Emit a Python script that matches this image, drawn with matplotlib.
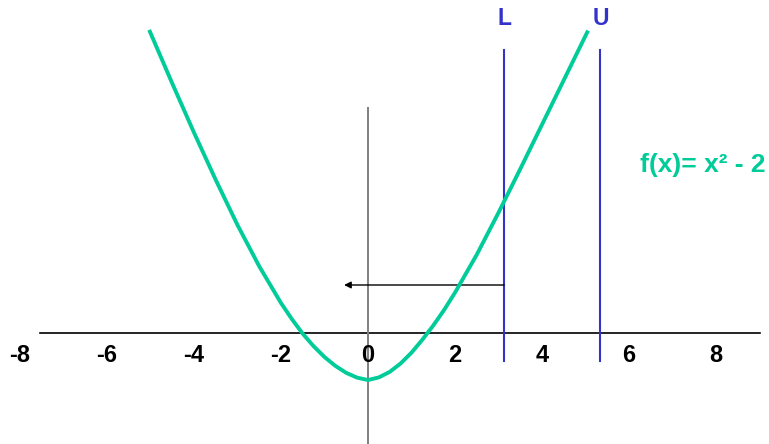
import matplotlib
matplotlib.use("Agg")
import matplotlib.pyplot as plt

# curve (y in units where the vertex sits at -2)
curva_x = [-5.03, -5.0, -4.5, -4.0, -3.5, -3.0, -2.5, -2.0, -1.75, -1.5, -1.25, -1.0,
           -0.75, -0.5, -0.25, 0.0, 0.25, 0.5, 0.75, 1.0, 1.25, 1.5, 1.75, 2.0, 2.5,
           3.0, 3.5, 4.0, 4.5, 5.0, 5.06]
curva_y = [12.63, 12.5, 10.4, 8.35, 6.38, 4.5, 2.78, 1.25, 0.58, -0.03, -0.55, -1.0,
           -1.37, -1.66, -1.86, -1.96, -1.85, -1.62, -1.27, -0.82, -0.28, 0.31, 0.96, 1.68, 3.26,
           5.01, 6.83, 8.68, 10.53, 12.38, 12.6]

ticks_x = [-8, -6, -4, -2, 0, 2, 4, 6, 8]
limites = {"L": 3.13, "U": 5.33}
flecha_y = 2.0
flecha_fin = -0.55
formula = "f(x)= x² - 2"

verde = "#00CC99"
azul = "#3333CC"

plt.rcParams["font.family"] = ["Liberation Sans", "DejaVu Sans"]

fig = plt.figure(figsize=(7.69, 4.44), dpi=100)
ax = fig.add_axes([0, 0, 1, 1])
ax.set_xlim(-8.46, 9.22)
ax.set_ylim(-4.625, 13.875)
ax.axis("off")

# ejes
ax.plot([-7.54, 9.01], [0, 0], color="black", lw=1.2, zorder=1)
ax.plot([0, 0], [-4.7, 9.375], color="#808080", lw=1.4, zorder=1)

for t in ticks_x:
    ax.text(t, -0.92, str(t), ha="center", va="center", fontsize=17,
            fontweight="bold", color="black")

# limites L y U
for nombre, xv in limites.items():
    ax.plot([xv, xv], [-1.17, 11.8], color=azul, lw=1.5, zorder=2)
    ax.text(xv + 0.02, 13.1, nombre, ha="center", va="center", fontsize=16.5,
            fontweight="bold", color=azul)

# flecha
ax.annotate("", xy=(flecha_fin, flecha_y), xytext=(limites["L"], flecha_y),
            arrowprops=dict(arrowstyle="-|>", color="black", lw=1.0,
                            mutation_scale=10, shrinkA=0, shrinkB=0))

# curva
ax.plot(curva_x, curva_y, color=verde, lw=2.8, solid_capstyle="butt",
        solid_joinstyle="round", zorder=3)

ax.text(6.25, 7.0, formula, ha="left", va="center", fontsize=19,
        fontweight="bold", color=verde)

fig.savefig("out.png", dpi=100)
